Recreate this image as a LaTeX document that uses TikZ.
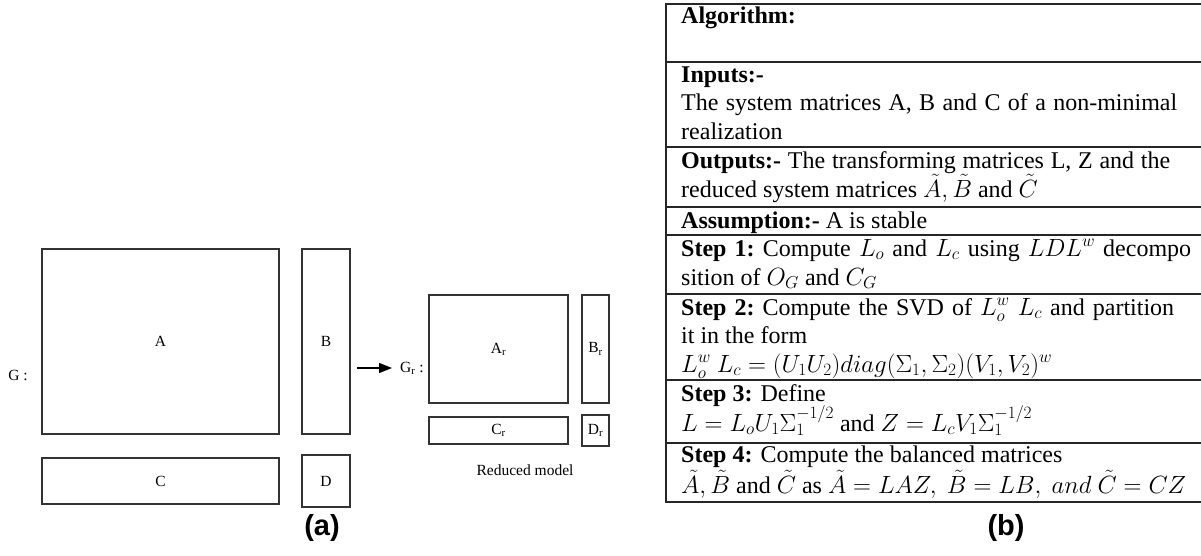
\documentclass[tikz,border=0pt]{standalone}
\usepackage{fontspec}
\setmainfont{Liberation Serif}
\setsansfont{Liberation Sans}
\usetikzlibrary{arrows.meta}
\begin{document}
\begin{tikzpicture}[x=1pt,y=-1pt,
  mbox/.style={draw=black!80, line width=1.3pt, inner sep=0pt, font=\fontsize{15.5}{18}\selectfont},
  lbl/.style={inner sep=0pt, font=\fontsize{15.5}{18}\selectfont},
  tline/.style={anchor=base west, inner sep=0pt, font=\fontsize{24}{28}\selectfont},
  tabrule/.style={draw=black!85, line width=1.5pt},
  arr/.style={draw=black, line width=1.3pt, -{Triangle[length=13pt,width=10pt]}},
  capt/.style={font=\sffamily\bfseries\fontsize{29}{34}\selectfont, inner sep=0pt}]
\useasboundingbox (0,0) rectangle (1201,556);

% ---- (a) full model ----
\node[lbl] (G) at (18,375) {G :};
\node[mbox, minimum width=237pt, minimum height=185pt] (A) at (160.5,341.5) {A};
\node[mbox, minimum width=48pt, minimum height=185pt] (B) at (326,341.5) {B};
\node[mbox, minimum width=237pt, minimum height=46pt] (C) at (160.5,481) {C};
\node[mbox, minimum width=48pt, minimum height=52pt] (D) at (326,481) {D};

% ---- reduced model ----
\coordinate (arrS) at (357,368);
\node[lbl, anchor=west] (Gr) at (400,368) {G\textsubscript{r} :};
\draw[arr] (arrS) -- ([xshift=-8pt]Gr.west);
\node[mbox, minimum width=139pt, minimum height=108pt] (Ar) at (498.5,349) {A\textsubscript{r}};
\node[mbox, minimum width=27pt, minimum height=108pt] (Br) at (595.5,349) {B\textsubscript{r}};
\node[mbox, minimum width=139pt, minimum height=27pt] (Cr) at (498.5,430.5) {C\textsubscript{r}};
\node[mbox, minimum width=27pt, minimum height=31pt] (Dr) at (595.5,430.5) {D\textsubscript{r}};
\node[lbl] (red) at (525,470) {Reduced model};

% ---- (b) algorithm table ----
\draw[tabrule] (1201,4) -- (666,4) -- (666,502) -- (1201,502);
\foreach \yy in {62,147,207,235,294,380,443} \draw[tabrule] (666,\yy) -- (1201,\yy);

\node[tline] (t1) at (681,24) {\textbf{Algorithm:}};
\node[tline] (t2) at (681,83) {\textbf{Inputs:-}};
\node[tline] (t3) at (681,111) {\makebox[496pt][s]{The system matrices A, B and C of a non-minimal}};
\node[tline] (t4) at (681,140) {realization};
\node[tline] (t5) at (681,168) {\makebox[489pt][s]{\textbf{Outputs:-} The transforming matrices L, Z and the}};
\node[tline] (t6) at (681,197) {reduced system matrices $\tilde{A}, \tilde{B}$ and $\tilde{C}$};
\node[tline] (t7) at (681,228) {\textbf{Assumption:-} A is stable};
\node[tline] (t8) at (681,256) {\makebox[510pt][s]{\textbf{Step 1:}\ Compute $L_o$ and $L_c$ using $LDL^w$ decompo}};
\node[tline] (t9) at (681,285) {sition of $O_G$ and $C_G$};
\node[tline] (t10) at (681,315) {\makebox[493pt][s]{\textbf{Step 2:}\ Compute the SVD of $L_o^w\ L_c$ and partition}};
\node[tline] (t11) at (681,343) {it in the form};
\node[tline] (t12) at (681,372) {$L_o^w\ L_c = (U_1U_2)diag(\Sigma_1, \Sigma_2)(V_1, V_2)^w$};
\node[tline] (t13) at (681,401) {\textbf{Step 3:} Define};
\node[tline] (t14) at (681,431) {$L = L_oU_1\Sigma_1^{-1/2}$ and $Z = L_cV_1\Sigma_1^{-1/2}$};
\node[tline] (t15) at (681,462) {\textbf{Step 4:} Compute the balanced matrices};
\node[tline] (t16) at (681,493) {$\tilde{A}, \tilde{B}$ and $\tilde{C}$ as $\tilde{A} = LAZ,\ \tilde{B} = LB,\ and\ \tilde{C} = CZ$};

% ---- captions ----
\node[capt] (ca) at (322,528) {(a)};
\node[capt] (cb) at (1006,528) {(b)};
\end{tikzpicture}
\end{document}
